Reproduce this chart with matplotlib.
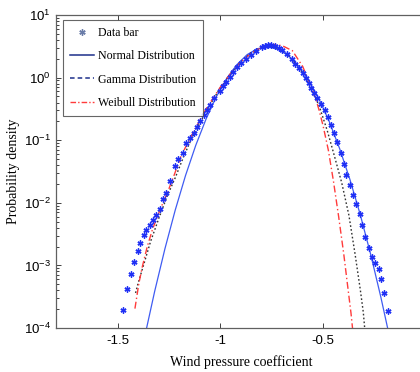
import matplotlib
matplotlib.use("Agg")
import matplotlib.pyplot as plt
from matplotlib.lines import Line2D
from matplotlib.ticker import LogLocator, FixedLocator, FixedFormatter, NullFormatter

# ---- data: histogram "data bar" points ----
data_x = [-1.472, -1.455, -1.436, -1.419, -1.403, -1.393, -1.374, -1.362, -1.341, -1.326,
          -1.315, -1.295, -1.279, -1.264, -1.245, -1.222, -1.205, -1.184, -1.169, -1.147,
          -1.130, -1.114, -1.098, -1.081, -1.066, -1.050, -1.029, -1.004, -0.986, -0.972,
          -0.955, -0.939, -0.918, -0.898, -0.875, -0.849, -0.825, -0.800, -0.785, -0.767,
          -0.752, -0.735, -0.716, -0.699, -0.677, -0.650, -0.637, -0.620, -0.600, -0.586,
          -0.571, -0.560, -0.544, -0.529, -0.511, -0.493, -0.478, -0.462, -0.447, -0.431,
          -0.414, -0.400, -0.387, -0.370, -0.356, -0.341, -0.323, -0.311, -0.295, -0.279,
          -0.262, -0.246, -0.228, -0.218, -0.202, -0.184]
data_y = [1.96e-4, 4.15e-4, 7.21e-4, 1.15e-3, 1.70e-3, 2.28e-3, 3.06e-3, 3.67e-3, 4.42e-3, 5.25e-3,
          6.38e-3, 8.05e-3, 1.15e-2, 1.46e-2, 2.24e-2, 3.87e-2, 5.01e-2, 6.32e-2, 8.91e-2, 0.107,
          0.132, 0.164, 0.203, 0.253, 0.303, 0.365, 0.467, 0.611, 0.741, 0.861,
          1.035, 1.24, 1.45, 1.69, 2.00, 2.30, 2.69, 3.05, 3.20, 3.32,
          3.30, 3.24, 3.02, 2.76, 2.40, 1.96, 1.67, 1.41, 1.17, 0.975,
          0.811, 0.675, 0.561, 0.467, 0.378, 0.303, 0.232, 0.175, 0.132, 0.0933,
          0.0631, 0.0417, 0.0281, 0.0192, 0.0133, 9.57e-3, 6.70e-3, 4.37e-3, 2.84e-3, 1.92e-3,
          1.38e-3, 1.08e-3, 8.65e-4, 5.98e-4, 3.58e-4, 1.87e-4]

# ---- fitted curves ----
normal_x = [-1.37, -1.32, -1.27, -1.22, -1.17, -1.12, -1.07, -1.02, -0.97, -0.92, -0.87, -0.82,
            -0.77, -0.72, -0.67, -0.62, -0.57, -0.52, -0.47, -0.42, -0.37, -0.32, -0.27, -0.22, -0.17]
normal_y = [6.9e-5, 3.85e-4, 1.85e-3, 7.64e-3, 2.72e-2, 8.30e-2, 0.218, 0.494, 0.964, 1.61, 2.33, 2.90,
            3.09, 2.84, 2.25, 1.53, 0.897, 0.452, 0.196, 7.31e-2, 2.35e-2, 6.49e-3, 1.54e-3, 3.15e-4, 5.6e-5]

gamma_x = [-1.413, -1.40, -1.37, -1.34, -1.30, -1.26, -1.22, -1.18, -1.14, -1.10, -1.05, -1.00,
           -0.95, -0.90, -0.85, -0.80, -0.77, -0.72, -0.67, -0.62, -0.57, -0.52, -0.48, -0.45,
           -0.41, -0.375, -0.345, -0.32, -0.305, -0.297]
gamma_y = [3.63e-4, 5.25e-4, 1.12e-3, 2.40e-3, 5.62e-3, 1.26e-2, 2.51e-2, 5.37e-2, 0.107, 0.191, 0.372, 0.692,
           1.17, 1.82, 2.51, 3.02, 3.16, 2.95, 2.29, 1.51, 0.794, 0.355, 0.141, 6.31e-2,
           2.09e-2, 6.31e-3, 1.51e-3, 4.17e-4, 1.78e-4, 8.9e-5]

weibull_x = [-1.416, -1.397, -1.38, -1.356, -1.331, -1.307, -1.282, -1.257, -1.23, -1.19, -1.13, -1.07,
             -1.00, -0.95, -0.90, -0.85, -0.80, -0.74, -0.70, -0.65, -0.60, -0.54, -0.52, -0.50,
             -0.475, -0.45, -0.425, -0.40, -0.38, -0.365, -0.356]
weibull_y = [2.04e-4, 5.13e-4, 9.55e-4, 2.00e-3, 3.72e-3, 6.03e-3, 9.55e-3, 1.48e-2, 2.51e-2, 5.75e-2, 0.138, 0.316,
             0.708, 1.17, 1.78, 2.45, 3.02, 3.39, 3.24, 2.69, 1.51, 0.501, 0.302, 0.166,
             6.92e-2, 2.19e-2, 6.03e-3, 1.51e-3, 4.37e-4, 1.74e-4, 8.9e-5]

x_ticks = [-1.5, -1.0, -0.5]
x_tick_labels = ["-1.5", "-1", "-0.5"]
legend_labels = ["Data bar", "Normal Distribution", "Gamma Distribution", "Weibull Distribution"]

fig = plt.figure(figsize=(4.2, 3.72), dpi=100)
ax = fig.add_axes([56/420, 44/372, 370/420, 313/372])

ax.plot(normal_x, normal_y, color="#3f5cf2", lw=0.9)
ax.plot(gamma_x, gamma_y, color="#333333", lw=1.0, linestyle=(0, (1.2, 1.6)))
ax.plot(weibull_x, weibull_y, color="#ff3b3b", lw=1.0, linestyle=(0, (5, 2, 1, 2)))
ax.plot(data_x, data_y, linestyle="none", marker=(6, 2, 0), markersize=4.3, mew=1.0, color="#1f30f5")

ax.set_yscale("log")
ax.set_xlim(-1.8, 0.0)
ax.set_ylim(1e-4, 1e1)
ax.xaxis.set_major_locator(FixedLocator(x_ticks))
ax.xaxis.set_major_formatter(FixedFormatter(x_tick_labels))
ax.yaxis.set_major_locator(LogLocator(base=10, numticks=10))
ax.yaxis.set_minor_locator(LogLocator(base=10, subs=range(2, 10), numticks=20))
ax.yaxis.set_minor_formatter(NullFormatter())
ax.tick_params(which="both", direction="in", top=True, right=True, colors="#404040",
               labelcolor="black", labelsize=9.5, width=0.7)
ax.tick_params(which="major", length=3.5)
ax.tick_params(which="minor", length=2)
ax.tick_params(axis="x", pad=5)
for lab in ax.get_xticklabels() + ax.get_yticklabels():
    lab.set_fontfamily("Liberation Sans")
for s in ax.spines.values():
    s.set_color("#606060")
    s.set_linewidth(0.9)

serif = "Liberation Serif"
ax.set_xlabel("Wind pressure coefficient", fontfamily=serif, fontsize=10, labelpad=6)
ax.set_ylabel("Probability density", fontfamily=serif, fontsize=10, labelpad=3)

handles = [
    Line2D([], [], linestyle="none", marker=(6, 2, 0), markersize=4.5, mew=1.0, color="#6a7ca8"),
    Line2D([], [], color="#1c2f8a", lw=1.1),
    Line2D([], [], color="#1c2f8a", lw=1.1, linestyle=(0, (3, 2))),
    Line2D([], [], color="#ff3b3b", lw=1.0, linestyle=(0, (4, 1.5, 1, 1.5))),
]
leg = ax.legend(handles, legend_labels, loc="upper left", bbox_to_anchor=(0.018, 0.985),
                prop={"family": serif, "size": 8.6}, frameon=True, fancybox=False,
                edgecolor="#404040", handlelength=2.0, handletextpad=0.35,
                labelspacing=0.95, borderpad=0.6, borderaxespad=0.0)
leg.get_frame().set_linewidth(0.8)

fig.savefig("out.png", dpi=100)
